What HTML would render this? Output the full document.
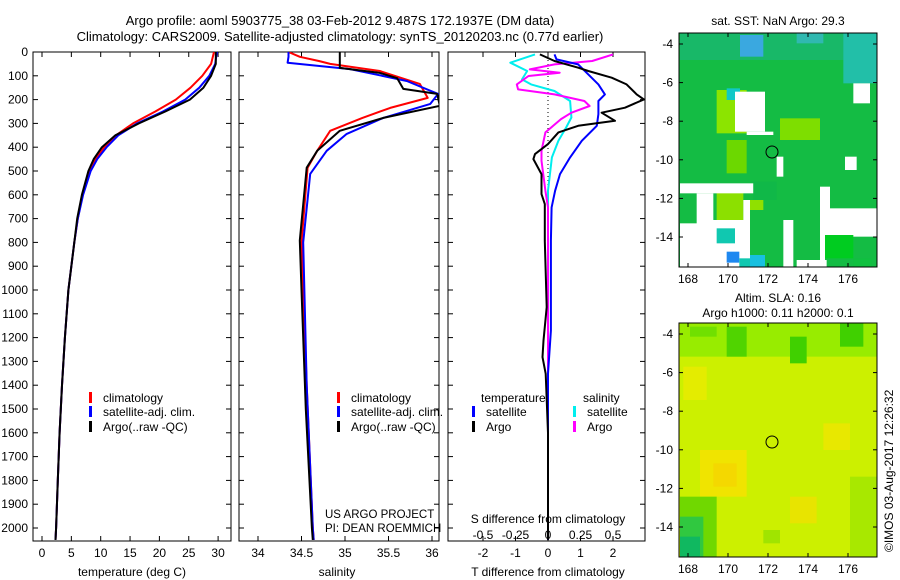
<!DOCTYPE html>
<html><head><meta charset="utf-8"><style>
html,body{margin:0;padding:0;background:#fff}
svg{display:block;font-family:"Liberation Sans",sans-serif}
text{font-size:12px;fill:#000}
</style></head><body>
<svg id="fig" width="900" height="580" xmlns="http://www.w3.org/2000/svg">
<text x="340" y="25" text-anchor="middle" style="font-size:13px">Argo profile: aoml 5903775_38 03-Feb-2012 9.487S 172.1937E (DM data)</text>
<text x="340" y="41" text-anchor="middle" style="font-size:13px">Climatology: CARS2009. Satellite-adjusted climatology: synTS_20120203.nc (0.77d earlier)</text>
<g id="maps"></g>
<g id="panels"></g>
</svg>
<script>
// ---------- data ----------
const depthT = [0,50,100,150,200,250,300,350,400,450,500,600,700,800,1000,1200,1400,1600,1800,2000,2050];
const tArgo  = [29.6,29.6,28.8,27.5,25.2,21.0,16.5,12.5,10.2,8.8,7.9,6.8,6.0,5.5,4.5,3.9,3.4,3.0,2.7,2.4,2.3];
const tClim  = [29.3,28.8,27.3,25.3,22.8,19.3,15.5,12.6,10.6,9.1,8.1,6.9,6.1,5.5,4.5,3.9,3.4,3.0,2.7,2.4,2.3];
const tSat   = [29.8,29.5,28.5,26.8,24.4,20.6,16.2,13.0,11.0,9.4,8.3,7.0,6.1,5.5,4.5,3.9,3.4,3.0,2.7,2.4,2.3];

const depthSArgo = [0,67,88,110,155,176,226,277,331,415,486,792,1000,1500,2000,2050];
const sArgo      = [34.94,34.94,35.40,35.60,35.67,36.06,36.09,35.44,34.94,34.68,34.56,34.48,34.50,34.55,34.62,34.63];
const depthSClim = [0,20,38,50,80,134,193,235,277,331,415,486,800,1400,2000,2050];
const sClim      = [34.35,34.48,34.70,34.83,35.40,35.86,35.95,35.52,35.20,34.83,34.68,34.57,34.50,34.56,34.63,34.64];
const depthSSat  = [0,20,45,72,122,176,218,277,344,415,512,800,1400,2000,2050];
const sSat       = [34.35,34.35,34.34,35.06,35.71,36.07,35.98,35.44,35.02,34.79,34.60,34.52,34.56,34.63,34.64];

const depthDTArgo = [10,38,66,80,108,136,178,199,234,255,289,310,338,387,429,450,513,597,639,793,1072,1212,1282,1352,1600,2050];
const dTArgo      = [-0.25,0.2,0.93,1.24,1.96,2.42,2.73,2.95,2.37,1.65,2.06,0.93,0.32,0.0,-0.4,-0.45,-0.2,-0.2,-0.1,-0.1,-0.04,-0.14,-0.17,-0.07,0.0,0.0];
const depthDTSat  = [10,31,52,94,136,178,206,261,310,373,443,513,583,653,793,1072,1170,1352,2050];
const dTSat       = [0.2,0.26,0.93,1.24,1.55,1.75,1.55,1.55,1.5,1.04,0.68,0.37,0.22,0.11,0.09,0.09,0.09,0.0,0.0];
const depthDSSat  = [10,45,80,115,136,164,206,275,317,373,443,583,2050];
const dSSat       = [-0.1,-0.29,-0.16,-0.2,-0.13,0.05,0.17,0.18,0.14,0.08,0.03,0.0,0.0];
const depthDSArgo = [10,38,52,73,87,101,136,157,178,206,227,255,282,310,338,415,457,583,653,2050];
const dSArgo      = [0.5,0.34,0.05,-0.14,0.09,-0.15,-0.24,-0.23,0.05,0.28,0.32,0.18,0.1,0.04,-0.02,-0.05,-0.05,-0.02,0.0,0.0];

const depthTicks = [0,100,200,300,400,500,600,700,800,900,1000,1100,1200,1300,1400,1500,1600,1700,1800,1900,2000];
const tTicks = [0,5,10,15,20,25,30];
const sTicks = [34,34.5,35,35.5,36];
const dtTicks = [-2,-1,0,1,2];
const dsTicks = [-0.5,-0.25,0,0.25,0.5];
const dsTickLabels = ["-0.5","-0.25","0","0.25","0.5"];
const lonTicks = [168,170,172,174,176];
const latTicks = [-4,-6,-8,-10,-12,-14];

// ---------- scales ----------
const TOP=52, BOT=541;
const yD = d => TOP + d*0.238;
const xT = t => 42 + t*5.87;
const xS = s => 258 + (s-34)*87;
const xDT = v => 548 + v*32.5;
const xDS = v => 548 + v*130;
const NS="http://www.w3.org/2000/svg";
const P = document.getElementById('panels');
const M = document.getElementById('maps');
function el(tag, attrs, parent, txt){const e=document.createElementNS(NS,tag);for(const k in attrs)e.setAttribute(k,attrs[k]);if(txt!==undefined)e.textContent=txt;(parent||P).appendChild(e);return e;}

const defs=el('defs',{});
[[33,231,'c1'],[239,439,'c2'],[448,645,'c3']].forEach(([a,b,id])=>{const c=el('clipPath',{id:id},defs);el('rect',{x:a,y:TOP,width:b-a,height:BOT-TOP},c);});

function frame(x0,x1,name){
  const r=el('rect',{x:x0,y:TOP,width:x1-x0,height:BOT-TOP,fill:'none',stroke:'#000','stroke-width':1});
  
  
  depthTicks.forEach(d=>{const y=yD(d);el('line',{x1:x0,x2:x0+5,y1:y,y2:y,stroke:'#000'});el('line',{x1:x1-5,x2:x1,y1:y,y2:y,stroke:'#000'});});
}
function xticks(vals,fx,labels,ly){
  vals.forEach((v,i)=>{const x=fx(v);el('line',{x1:x,x2:x,y1:TOP,y2:TOP+5,stroke:'#000'});el('line',{x1:x,x2:x,y1:BOT-5,y2:BOT,stroke:'#000'});
    if(labels){const t=el('text',{x:x,y:ly,'text-anchor':'middle'},P,labels[i]);}});
}
function line(depths,vals,fx,color,w,clip,name){
  const pts=depths.map((d,i)=>fx(vals[i]).toFixed(1)+','+yD(d).toFixed(1)).join(' ');
  const p=el('polyline',{points:pts,fill:'none',stroke:color,'stroke-width':w,'clip-path':'url(#'+clip+')','stroke-linejoin':'round'});
  
  
}

// Panel 1
frame(33,231,'temperature-panel');
depthTicks.forEach(d=>{const t=el('text',{x:28,y:yD(d)+4,'text-anchor':'end'},P,String(d));});
xticks(tTicks,xT,tTicks.map(String),557);
line(depthT,tClim,xT,'#f00',2,'c1','temp-climatology-line');
line(depthT,tSat,xT,'#00f',2,'c1','temp-satellite-line');
line(depthT,tArgo,xT,'#000',2,'c1','temp-argo-line');
let t=el('text',{x:132,y:576,'text-anchor':'middle'},P,'temperature (deg C)');

// Panel 2
frame(239,439,'salinity-panel');
xticks(sTicks,xS,["34","34.5","35","35.5","36"],557);
line(depthSClim,sClim,xS,'#f00',2,'c2','sal-climatology-line');
line(depthSSat,sSat,xS,'#00f',2,'c2','sal-satellite-line');
line(depthSArgo,sArgo,xS,'#000',2,'c2','sal-argo-line');
t=el('text',{x:337,y:576,'text-anchor':'middle'},P,'salinity');
t=el('text',{x:325,y:518,style:'font-size:11.5px'},P,'US ARGO PROJECT');
t=el('text',{x:325,y:532,style:'font-size:11.5px'},P,'PI: DEAN ROEMMICH');

// Panel 3
frame(448,645,'difference-panel');
xticks(dtTicks,xDT,dtTicks.map(String),557);
dsTickLabels.forEach((l,i)=>{t=el('text',{x:xDS(dsTicks[i]),y:539,'text-anchor':'middle'},P,l);});
el('line',{x1:548,x2:548,y1:TOP,y2:BOT,stroke:'#000','stroke-dasharray':'1,3'});
line(depthDSSat,dSSat,xDS,'#0ee',2,'c3','sdiff-satellite-line');
line(depthDSArgo,dSArgo,xDS,'#f0f',2,'c3','sdiff-argo-line');
line(depthDTSat,dTSat,xDT,'#00f',2,'c3','tdiff-satellite-line');
line(depthDTArgo,dTArgo,xDT,'#000',2,'c3','tdiff-argo-line');
t=el('text',{x:548,y:523,'text-anchor':'middle'},P,'S difference from climatology');
t=el('text',{x:548,y:576,'text-anchor':'middle'},P,'T difference from climatology');

function legItem(x,y,color,label,name){
  el('rect',{x:x,y:y-10,width:3,height:11,fill:color});
  const tt=el('text',{x:x+14,y:y},P,label);
  
  
}
legItem(89,402,'#f00','climatology','legend-climatology');
legItem(89,416,'#00f','satellite-adj. clim.','legend-satellite-adj');
legItem(89,431,'#000','Argo(..raw -QC)','legend-argo');
legItem(337,402,'#f00','climatology','legend-climatology-2');
legItem(337,416,'#00f','satellite-adj. clim.','legend-satellite-adj-2');
legItem(337,431,'#000','Argo(..raw -QC)','legend-argo-2');
t=el('text',{x:481,y:402},P,'temperature');
t=el('text',{x:583,y:402},P,'salinity');
legItem(472,416,'#00f','satellite','legend-t-satellite');
legItem(472,431,'#000','Argo','legend-t-argo');
legItem(573,416,'#0ee','satellite','legend-s-satellite');
legItem(573,431,'#f0f','Argo','legend-s-argo');

// ---------- maps ----------
function mapPanel(y0,title1,title2,base,patches,name){
  const x0=679,x1=877,y1=y0+234;
  const cid='m'+y0;
  const c=el('clipPath',{id:cid},defs);el('rect',{x:x0,y:y0,width:x1-x0,height:y1-y0},c);
  const g=el('g',{'clip-path':'url(#'+cid+')'},M);
  el('rect',{x:x0,y:y0,width:x1-x0,height:y1-y0,fill:base},g);
  patches.forEach(p=>el('rect',{x:650+p[0]/3,y:y0-33+p[1]/3,width:(p[2]-p[0])/3,height:(p[3]-p[1])/3,fill:p[4]},g));
  const f=el('rect',{x:x0,y:y0,width:x1-x0,height:y1-y0,fill:'none',stroke:'#000'},M);
  
  
  lonTicks.forEach(l=>{const x=688+(l-168)*20;el('line',{x1:x,x2:x,y1:y1,y2:y1-4,stroke:'#000'},M);el('line',{x1:x,x2:x,y1:y0,y2:y0+4,stroke:'#000'},M);
    const tt=el('text',{x:x,y:y1+16,'text-anchor':'middle'},M,String(l));});
  latTicks.forEach(l=>{const y=y0+11+(-4-l)*19.3;el('line',{x1:x0,x2:x0+4,y1:y,y2:y,stroke:'#000'},M);el('line',{x1:x1-4,x2:x1,y1:y,y2:y,stroke:'#000'},M);
    const tt=el('text',{x:x0-6,y:y+4,'text-anchor':'end'},M,String(l));});
  el('circle',{cx:772,cy:y0+119,r:6,fill:'none',stroke:'#000'},M);
  let tt=el('text',{x:778,y:y0-(title2?21:8),'text-anchor':'middle'},M,title1);
  if(title2){tt=el('text',{x:778,y:y0-6,'text-anchor':'middle'},M,title2);}
}
const W='#fff';
mapPanel(33,'sat. SST: NaN Argo: 29.3',null,'#14bc44',[
 [90,100,680,180,'#18b868'],[270,105,340,170,'#3aa8e0'],[580,100,680,250,'#22bfa8'],[440,100,520,130,'#30b8b0'],
 [200,270,290,400,'#8ce400'],[390,355,510,420,'#7ede00'],[230,420,290,520,'#6cd800'],[200,560,280,660,'#8ce000'],[300,600,340,630,'#90e000'],
 [230,265,270,300,'#10c8c8'],
 [255,275,345,395,W],[290,395,370,405,W],[380,470,400,530,W],[585,470,620,510,W],[610,250,660,310,W],
 [90,550,310,580,W],[140,580,190,680,W],[90,670,200,800,W],[150,660,300,800,W],[280,600,300,660,W],
 [510,560,540,710,W],[540,625,680,710,W],[510,700,525,800,W],[400,660,430,800,W],[440,780,530,800,W],
 [200,685,255,730,'#10c8b0'],[230,755,268,788,'#1e88f0'],[300,765,345,800,'#18c0e0'],[268,775,300,800,'#10c8b0'],
 [525,705,610,775,'#00cc20'],[610,775,665,800,'#10c040'],[310,545,380,600,'#10b848']
],'sst-map-frame');
mapPanel(323,'Altim. SLA: 0.16','Argo h1000: 0.11 h2000: 0.1','#ccf000',[
 [90,100,680,200,'#98ec00'],[230,110,290,200,'#50d400'],[420,140,470,220,'#40d000'],[570,100,640,170,'#40d000'],[120,110,200,140,'#70e000'],
 [100,230,170,330,'#e4ec00'],[150,480,290,620,'#f0e400'],[190,520,260,590,'#f4d800'],[520,400,600,480,'#e8e800'],[420,620,500,700,'#e8e400'],
 [600,560,680,800,'#a8e800'],[90,620,200,800,'#70d800'],[90,680,160,800,'#30c840'],[90,740,150,800,'#10b860'],[340,720,390,760,'#a0e400']
],'sla-map-frame');
t=el('text',{x:0,y:0,transform:'translate(893,552) rotate(-90)'},M,'©IMOS 03-Aug-2017 12:26:32');


</script>
</body></html>
